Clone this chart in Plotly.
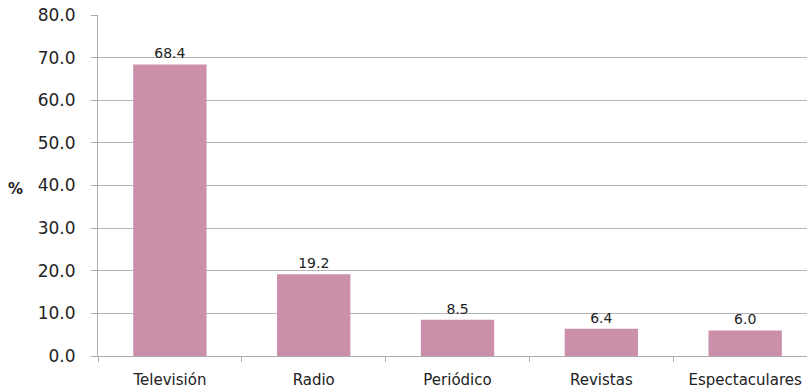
import plotly.graph_objects as go

categories = ["Televisión", "Radio", "Periódico", "Revistas", "Espectaculares"]
values = [68.4, 19.2, 8.5, 6.4, 6.0]
y_ticks = [0, 10, 20, 30, 40, 50, 60, 70, 80]
y_tick_labels = ["0.0", "10.0", "20.0", "30.0", "40.0", "50.0", "60.0", "70.0", "80.0"]

FONT = "DejaVu Sans"
TXT = "#222222"
AX = "#ABABAB"

fig = go.Figure()
fig.add_trace(go.Bar(
    x=categories, y=values,
    marker=dict(color="#CC8FAA", line=dict(width=0)),
    text=[f"{v:.1f}" for v in values],
    textposition="outside",
    textfont=dict(family=FONT, size=14, color=TXT),
    cliponaxis=False,
    width=0.51,
))

fig.update_layout(
    width=807, height=390,
    margin=dict(l=98, r=0, t=15, b=34),
    paper_bgcolor="white", plot_bgcolor="white",
    showlegend=False,
    font=dict(family=FONT, color=TXT),
)
fig.update_xaxes(
    range=[-0.5, 4.43],
    showline=True, linecolor=AX, linewidth=1,
    ticks="outside", ticklen=5, tickcolor=AX,
    tickson="boundaries",
    showgrid=False,
    ticklabelstandoff=10,
    tickfont=dict(family=FONT, size=15, color=TXT),
)
fig.update_yaxes(
    range=[0, 80],
    tickvals=y_ticks, ticktext=y_tick_labels,
    showline=True, linecolor=AX, linewidth=1,
    ticks="outside", ticklen=6, tickcolor=AX,
    showgrid=True, gridcolor="#B5B5B5", gridwidth=1,
    zeroline=False,
    ticklabelstandoff=12,
    tickfont=dict(family=FONT, size=17, color=TXT),
)
fig.add_annotation(
    text="<b>%</b>", xref="paper", yref="paper",
    x=(15 - 98) / 709, y=(356 - 189) / 341, xanchor="center", yanchor="middle",
    showarrow=False, font=dict(family=FONT, size=15, color=TXT),
)

fig.write_html("out.html", config={"displayModeBar": False},
               post_script="document.body.style.margin='0';")
